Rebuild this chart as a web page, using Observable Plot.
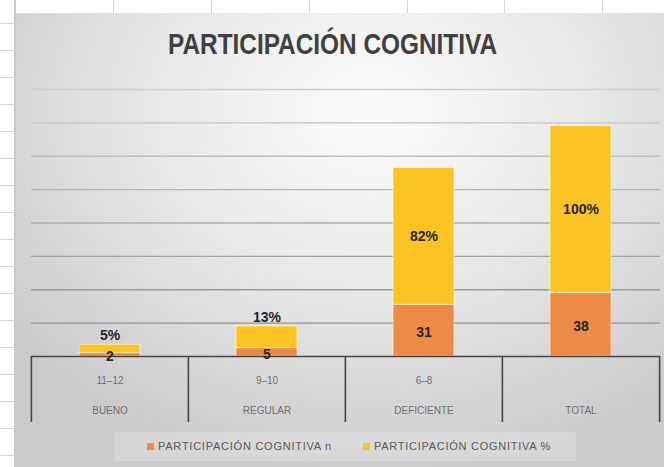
<!DOCTYPE html>
<html>
<head>
<meta charset="utf-8">
<script src="https://cdn.jsdelivr.net/npm/d3@7"></script>
<script src="https://cdn.jsdelivr.net/npm/@observablehq/plot@0.6"></script>
<style>
  html, body { margin: 0; padding: 0; }
  body {
    width: 664px; height: 467px; position: relative; overflow: hidden;
    background: #fff;
  }
  #rowhead {
    position: absolute; left: 0; top: 0; width: 14px; height: 467px;
    background: repeating-linear-gradient(to bottom, #fff 0px, #fff 23px, #d6d6d6 23px, #d6d6d6 24px, #fff 24px, #fff 27px);
    border-right: 2px solid #c8c8c8;
  }
  #colhead {
    position: absolute; left: 16px; top: 0; width: 648px; height: 13px;
    background: #fff;
  }
  .vline { position: absolute; top: 0; width: 1px; height: 13px; background: #d4d4d4; }
  #chart {
    position: absolute; left: 16px; top: 13px; width: 648px; height: 454px;
    background: radial-gradient(ellipse 70% 80% at 55% 22%, #fbfbfb 0%, #eaeaea 45%, #d6d6d6 80%, #cbcbcb 100%);
    font-family: "Liberation Sans", sans-serif;
  }
  #title {
    height: 60px; position: relative;
  }
  #title span {
    position: absolute; left: 152px; top: 14px;
    font-size: 30px; font-weight: bold; color: #404040;
    transform-origin: 0 0; white-space: nowrap;
  }
  #legend {
    position: relative;
    margin-left: 99px; margin-top: 2px; width: 461px; height: 29px;
    background: rgba(255,255,255,0.22);
    font-family: "Liberation Sans", sans-serif;
    font-size: 11px; color: #595959;
  }
  .sw { position: absolute; top: 11px; width: 7px; height: 7px; }
  .lt { position: absolute; top: 8px; white-space: nowrap; line-height: 13px; }
  svg { display: block; }
</style>
</head>
<body>
<div id="rowhead"></div>
<div id="colhead"></div>
<div id="chart">
  <div id="title"><span></span></div>
  <div id="plot"></div>
  <div id="legend"></div>
</div>
<script>
// ---- data ----
const titleText = "PARTICIPACIÓN COGNITIVA";
const categories = ["BUENO", "REGULAR", "DEFICIENTE", "TOTAL"];
const ranges = ["11–12", "9–10", "6–8", ""];
const nValues = [2, 5, 31, 38];
const pctValues = [5, 13, 82, 100];
const pctLabels = ["5%", "13%", "82%", "100%"];
const seriesNames = ["PARTICIPACIÓN COGNITIVA n", "PARTICIPACIÓN COGNITIVA %"];
const yTicks = [20, 40, 60, 80, 100, 120, 140, 160];
const colors = ["#ED8A45", "#FBC424"];

// spreadsheet column lines (decoration)
[97, 195, 293, 391, 488, 586].forEach(x => {
  const d = document.createElement("div");
  d.className = "vline"; d.style.left = x + "px";
  document.getElementById("colhead").appendChild(d);
});

// title, condensed to the reference's width
const tspan = document.querySelector("#title span");
tspan.textContent = titleText;
const tw = tspan.getBoundingClientRect().width;
tspan.style.transform = `scaleX(${329 / tw})`;

const table = categories.flatMap((c, i) => [
  {cat: c, serie: seriesNames[0], value: nValues[i], base: 0, label: String(nValues[i])},
  {cat: c, serie: seriesNames[1], value: pctValues[i], base: nValues[i], label: pctLabels[i]}
]);
const nRows = table.filter(d => d.serie === seriesNames[0]);
const pRows = table.filter(d => d.serie === seriesNames[1]);

const W = 648, H = 357, ML = 15, MR = 4, MT = 16, MB = 74;
const step = (W - ML - MR) / categories.length;
const gridColor = d3.interpolateRgb("#888888", "#cfcfcf");

const chart = Plot.plot({
  width: W, height: H,
  marginTop: MT, marginBottom: MB, marginLeft: ML, marginRight: MR,
  style: {background: "transparent", fontFamily: "'Liberation Sans', sans-serif", overflow: "visible"},
  x: {domain: categories, paddingInner: 0.61, paddingOuter: 0.305, axis: null},
  y: {domain: [0, 160], axis: null},
  color: {domain: seriesNames, range: colors},
  marks: [
    ...yTicks.map(t => Plot.ruleY([t], {stroke: gridColor(t / 160), strokeWidth: 1.3})),
    Plot.barY(table, {x: "cat", y: "value", fill: "serie", order: seriesNames,
      stroke: "#fff", strokeOpacity: 0.55, strokeWidth: 1}),
    Plot.ruleY([0], {stroke: "#444", strokeWidth: 1.6}),
    Plot.ruleX(categories, {x: d => d, y1: 0, y2: 0, insetBottom: -66, dx: -step / 2, stroke: "#444", strokeWidth: 1.6}),
    Plot.ruleX([categories[categories.length - 1]], {x: d => d, y1: 0, y2: 0, insetBottom: -66, dx: step / 2, stroke: "#444", strokeWidth: 1.6}),
    // value labels
    Plot.text(nRows, {x: "cat", y: d => d.base + d.value / 2, text: "label",
      fontSize: 14, fontWeight: "bold", fill: "#262626", dy: 2}),
    Plot.text(pRows.filter(d => d.value >= 50), {x: "cat", y: d => d.base + d.value / 2, text: "label",
      fontSize: 14, fontWeight: "bold", fill: "#262626"}),
    Plot.text(pRows.filter(d => d.value < 50), {x: "cat", y: d => d.base + d.value, text: "label",
      fontSize: 14, fontWeight: "bold", fill: "#262626", dy: -9}),
    // category axis (two levels)
    Plot.text(categories, {x: d => d, y: 0, text: (d, i) => ranges[i], dy: 24,
      fontSize: 10, fill: "#6f6f6f"}),
    Plot.text(categories, {x: d => d, y: 0, text: d => d, dy: 54,
      fontSize: 10, fill: "#6f6f6f"})
  ]
});
document.getElementById("plot").appendChild(chart);

// legend: swatch + text, text letter-spaced to the reference widths
const legend = document.getElementById("legend");
const swLeft = [32, 248], txLeft = [43, 259], txWidth = [174, 177];
seriesNames.forEach((s, i) => {
  const sw = document.createElement("span");
  sw.className = "sw"; sw.style.background = colors[i]; sw.style.left = swLeft[i] + "px";
  const tx = document.createElement("span");
  tx.className = "lt"; tx.textContent = s; tx.style.left = txLeft[i] + "px";
  legend.appendChild(sw); legend.appendChild(tx);
  const w = tx.getBoundingClientRect().width;
  tx.style.letterSpacing = ((txWidth[i] - w) / s.length) + "px";
});
</script>
</body>
</html>
